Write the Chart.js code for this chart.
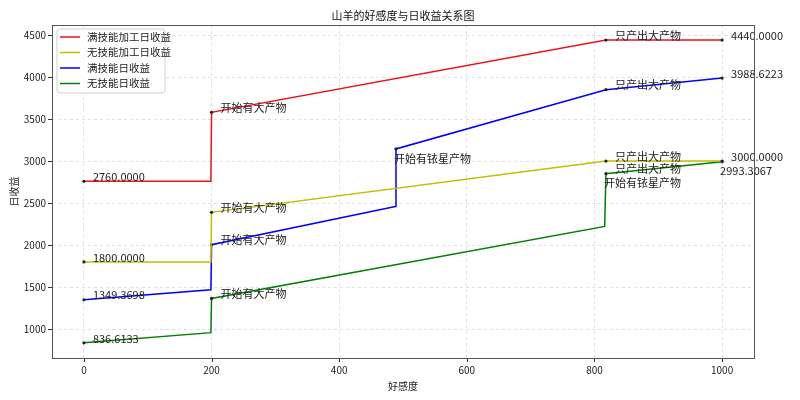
<!DOCTYPE html>
<html>
<head>
<meta charset="utf-8">
<script src="https://cdn.jsdelivr.net/npm/chart.js@4.4.0/dist/chart.umd.min.js"></script>
<style>
  html, body { margin: 0; padding: 0; background: #fff; }
  #wrap { width: 800px; height: 400px; }
</style>
</head>
<body>
<div id="wrap"><canvas id="grafico"></canvas></div>
<script>
const xTicks = [0, 200, 400, 600, 800, 1000];
const yTicks = [1000, 1500, 2000, 2500, 3000, 3500, 4000, 4500];

const nomes = ["满技能加工日收益", "无技能加工日收益", "满技能日收益", "无技能日收益"];
const cores = ["#e8141c", "#bfbf00", "#0000ff", "#008000"];

const redX = [0, 199, 200, 818, 1000];
const redY = [2760, 2760, 3580, 4440, 4440];
const yellowX = [0, 199, 200, 818, 1000];
const yellowY = [1800, 1800, 2390, 3000, 3000];
const blueX = [0, 199, 200, 488, 489, 818, 1000];
const blueY = [1349.3698, 1468, 2005, 2460, 3145, 3850, 3988.6223];
const greenX = [0, 199, 200, 816, 818, 1000];
const greenY = [836.6133, 958, 1365, 2222, 2850, 2993.3067];

// anotações: [série, índice do ponto, texto, abaixo?]
const anotacoes = [
  [0, 0, "2760.0000"], [0, 2, "开始有大产物"], [0, 3, "只产出大产物"], [0, 4, "4440.0000"],
  [1, 0, "1800.0000"], [1, 2, "开始有大产物"], [1, 3, "只产出大产物"], [1, 4, "3000.0000"],
  [2, 0, "1349.3698"], [2, 2, "开始有大产物"], [2, 4, "开始有铱星产物", true], [2, 5, "只产出大产物"], [2, 6, "3988.6223"],
  [3, 0, "836.6133"], [3, 2, "开始有大产物"], [3, 4, "只产出大产物"], [3, 4, "开始有铱星产物", true], [3, 5, "2993.3067", true],
];

const FONTE = '"Noto Sans CJK SC", "Noto Sans", sans-serif';
const xs = [redX, yellowX, blueX, greenX];
const ys = [redY, yellowY, blueY, greenY];

function temAnotacao(s, i) {
  return anotacoes.some((a) => a[0] === s && a[1] === i);
}

const datasets = nomes.map((nome, s) => ({
  label: nome,
  data: xs[s].map((x, i) => ({ x: x, y: ys[s][i] })),
  borderColor: cores[s],
  backgroundColor: cores[s],
  borderWidth: 1.5,
  showLine: true,
  pointRadius: xs[s].map((x, i) => (temAnotacao(s, i) ? 1.6 : 0)),
  pointBackgroundColor: "#222",
  pointBorderWidth: 0,
}));

const pluginExtras = {
  id: "extras",
  beforeDatasetsDraw(chart) {
    const ctx = chart.ctx;
    const a = chart.chartArea;
    const sx = chart.scales.x, sy = chart.scales.y;
    ctx.save();
    ctx.strokeStyle = "#333";
    ctx.lineWidth = 1;
    xTicks.forEach((v) => {
      const px = Math.round(sx.getPixelForValue(v)) + 0.5;
      ctx.beginPath(); ctx.moveTo(px, a.bottom); ctx.lineTo(px, a.bottom + 4); ctx.stroke();
    });
    yTicks.forEach((v) => {
      const py = Math.round(sy.getPixelForValue(v)) + 0.5;
      ctx.beginPath(); ctx.moveTo(a.left - 4, py); ctx.lineTo(a.left, py); ctx.stroke();
    });
    ctx.restore();
  },
  afterDatasetsDraw(chart) {
    const ctx = chart.ctx;
    const sx = chart.scales.x, sy = chart.scales.y;
    ctx.save();
    ctx.font = "11px " + FONTE;
    ctx.fillStyle = "#222";
    ctx.textAlign = "left";
    anotacoes.forEach(([s, i, texto, abaixo]) => {
      const px = sx.getPixelForValue(xs[s][i]);
      const py = sy.getPixelForValue(ys[s][i]);
      if (abaixo) {
        ctx.textBaseline = "top";
        ctx.fillText(texto, px - 2, py + 4);
      } else {
        ctx.textBaseline = "bottom";
        ctx.fillText(texto, px + 9, py + 1);
      }
    });
    ctx.restore();
  },
  afterDraw(chart) {
    const ctx = chart.ctx;
    const a = chart.chartArea;
    ctx.save();
    // moldura
    ctx.strokeStyle = "#555";
    ctx.lineWidth = 1;
    ctx.strokeRect(a.left + 0.5, a.top + 0.5, a.right - a.left, a.bottom - a.top);
    // título
    ctx.fillStyle = "#111";
    ctx.font = "11px " + FONTE;
    ctx.textAlign = "center";
    ctx.textBaseline = "middle";
    ctx.fillText("山羊的好感度与日收益关系图", (a.left + a.right) / 2, 16);
    // legenda
    const lx = a.left + 5, ly = a.top + 4, lw = 108, lh = 64;
    ctx.fillStyle = "rgba(255,255,255,0.85)";
    ctx.strokeStyle = "#d0d0d0";
    ctx.beginPath();
    ctx.roundRect(lx, ly, lw, lh, 3);
    ctx.fill(); ctx.stroke();
    ctx.font = "10.5px " + FONTE;
    ctx.textAlign = "left";
    nomes.forEach((nome, s) => {
      const yy = ly + 8 + s * 15.5;
      ctx.strokeStyle = cores[s];
      ctx.lineWidth = 1.5;
      ctx.beginPath(); ctx.moveTo(lx + 3, yy); ctx.lineTo(lx + 23, yy); ctx.stroke();
      ctx.fillStyle = "#222";
      ctx.fillText(nome, lx + 30, yy);
    });
    ctx.restore();
  },
};

new Chart(document.getElementById("grafico"), {
  type: "scatter",
  data: { datasets: datasets },
  plugins: [pluginExtras],
  options: {
    responsive: true,
    maintainAspectRatio: false,
    animation: false,
    layout: { padding: { top: 25, right: 46, bottom: 0, left: 0 } },
    plugins: {
      legend: { display: false },
      tooltip: { enabled: false },
      title: { display: false },
    },
    scales: {
      x: {
        type: "linear",
        min: -50,
        max: 1050,
        afterBuildTicks: (scale) => { scale.ticks = xTicks.map((v) => ({ value: v })); },
        afterFit: (scale) => { scale.height = 42; },
        ticks: { padding: 6, color: "#222", font: { size: 10, family: FONTE }, maxRotation: 0, callback: (v) => String(v) },
        grid: { color: "#d8d8d8", lineWidth: 0.8, drawTicks: false },
        border: { display: false, dash: [3, 3] },
        title: { display: true, text: "好感度", color: "#222", font: { size: 10, family: FONTE }, padding: { top: 0, bottom: 8 } },
      },
      y: {
        type: "linear",
        min: 656,
        max: 4620,
        afterBuildTicks: (scale) => { scale.ticks = yTicks.map((v) => ({ value: v })); },
        afterFit: (scale) => { scale.width = 52; },
        ticks: { padding: 6, color: "#222", font: { size: 10, family: FONTE }, callback: (v) => String(v) },
        grid: { color: "#d8d8d8", lineWidth: 0.8, drawTicks: false },
        border: { display: false, dash: [3, 3] },
        title: { display: true, text: "日收益", color: "#222", font: { size: 10, family: FONTE }, padding: { top: 8, bottom: 0 } },
      },
    },
  },
});
</script>
</body>
</html>
